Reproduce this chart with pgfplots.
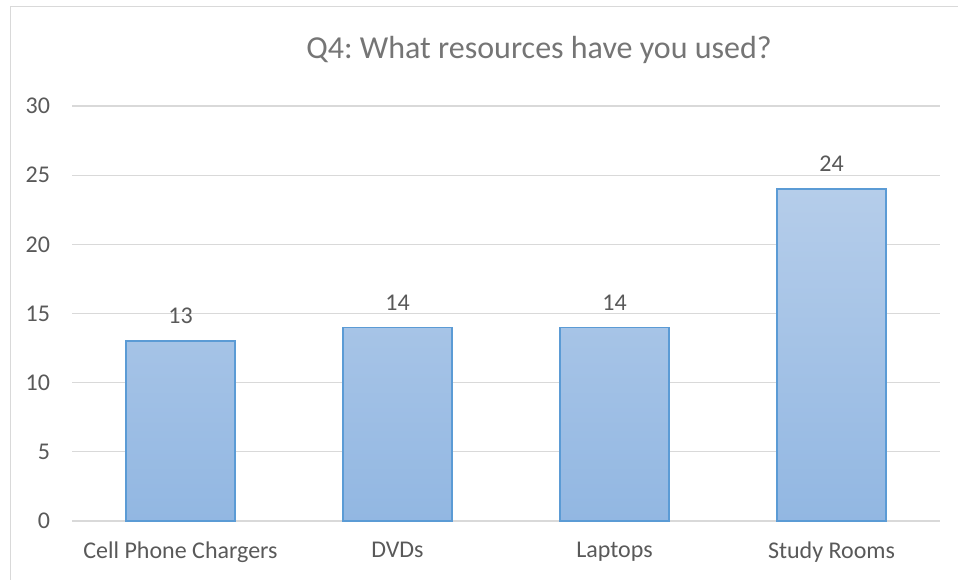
\documentclass[border=0pt]{standalone}
\usepackage{pgfplots}
\pgfplotsset{compat=1.18}
\usepackage{fontspec}
\setmainfont{Carlito}
\frenchspacing
\definecolor{txtc}{HTML}{595959}
\definecolor{ttlc}{HTML}{757575}
\definecolor{gridc}{HTML}{D9D9D9}
\definecolor{bartop}{HTML}{B5CDEA}
\definecolor{barbot}{HTML}{92B7E2}
\definecolor{barline}{HTML}{5B9BD5}
\begin{document}
\begin{tikzpicture}[x=0.75pt,y=0.75pt]
\useasboundingbox (0,0) rectangle (958,580);
\draw[gridc, line width=0.75pt] (10,0) -- (10,573) -- (958,573);
\node[ttlc, font=\fontsize{24}{28}\selectfont] at (539,530) {Q4: What resources have you used?};
\begin{axis}[
  at={(54pt,44.25pt)}, anchor=south west,
  scale only axis,
  width=651pt, height=311.25pt,
  xmin=-0.5, xmax=3.5, ymin=0, ymax=30,
  ytick={0,5,...,30},
  xtick=data,
  xticklabels={Cell Phone Chargers, DVDs, Laptops, Study Rooms},
  axis line style={draw=none},
  major tick length=0pt,
  ymajorgrids, xmajorgrids=false,
  grid style={draw=gridc, line width=0.9pt},
  tick label style={txtc, font=\fontsize{18}{21}\selectfont},
  yticklabel style={anchor=east, xshift=-13pt},
  xticklabel style={anchor=north, yshift=-12pt},
  /pgf/number format/assume math mode=true,
  clip=false,
]
\addplot[ybar, bar width=0.5, draw=barline, line width=1.2pt,
  top color=bartop, bottom color=barbot, shading=axis,
  nodes near coords,
  every node near coord/.append style={txtc, font=\fontsize{18}{21}\selectfont, yshift=9pt}]
  coordinates {(0,13) (1,14) (2,14) (3,24)};
\end{axis}
\end{tikzpicture}
\end{document}
